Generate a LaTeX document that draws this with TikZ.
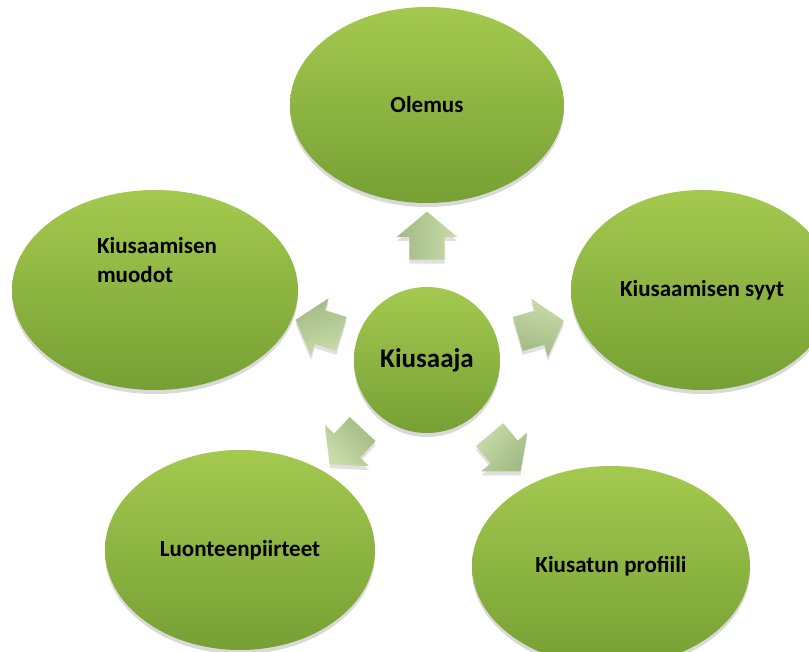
\documentclass[tikz,border=0pt]{standalone}
\usepackage{fontspec}
\setmainfont{Carlito}
\usetikzlibrary{shapes.geometric,shapes.arrows,shadows}

\definecolor{leaftop}{HTML}{A4C94F}
\definecolor{leafbot}{HTML}{76A034}
\definecolor{petaltop}{HTML}{C8DCAA}
\definecolor{petalbot}{HTML}{A2BA83}

\tikzstyle{leaf} = [style={ellipse, inner sep=0, top color=leaftop, bottom color=leafbot,
  drop shadow={shadow xshift=0pt, shadow yshift=-4pt, opacity=.15, fill=black},
  font=\fontsize{23}{29}\selectfont\bfseries, align=center}]
\tikzstyle{hub} = [style={leaf, circle, minimum size=146, font=\fontsize{27}{32}\selectfont\bfseries}]
\tikzstyle{petal} = [style={single arrow, inner xsep=0, inner ysep=17.5, minimum height=48,
  single arrow head extend=12.5, single arrow tip angle=100,
  top color=petaltop, bottom color=petalbot,
  drop shadow={shadow xshift=0pt, shadow yshift=-4pt, opacity=.12, fill=black}}]

\begin{document}
\begin{tikzpicture}[x=1pt, y=1pt]
\clip (0,0) rectangle (809,651);
\fill[white] (0,0) rectangle (809,651);

%% centre
\node [hub] (kiu) at (427,291) {Kiusaaja};

%% arrows round the centre
\foreach \a/\d/\n in {90/117/up, 163/106/lf, 16/111/rt, 227/111/dl, 310/114/dr}
  {\node [petal, rotate=\a, shading angle=-\a] (p\n) at ([shift={(\a:\d)}]kiu) {};}

%% outer ellipses
\node [leaf, minimum width=274, minimum height=196] (ole) at (427,546) {Olemus};
\node [leaf, minimum width=286, minimum height=200] (muo) at (155,361) {};
\node [align=left, font=\fontsize{23}{29}\selectfont\bfseries] (muot) at (157,391) {Kiusaamisen\\muodot};
\node [leaf, minimum width=262, minimum height=200] (syy) at (702,361) {Kiusaamisen syyt};
\node [leaf, minimum width=270, minimum height=200] (luo) at (240,101) {Luonteenpiirteet};
\node [leaf, minimum width=278, minimum height=200] (pro) at (611,85) {Kiusatun profiili};

\end{tikzpicture}
\end{document}
